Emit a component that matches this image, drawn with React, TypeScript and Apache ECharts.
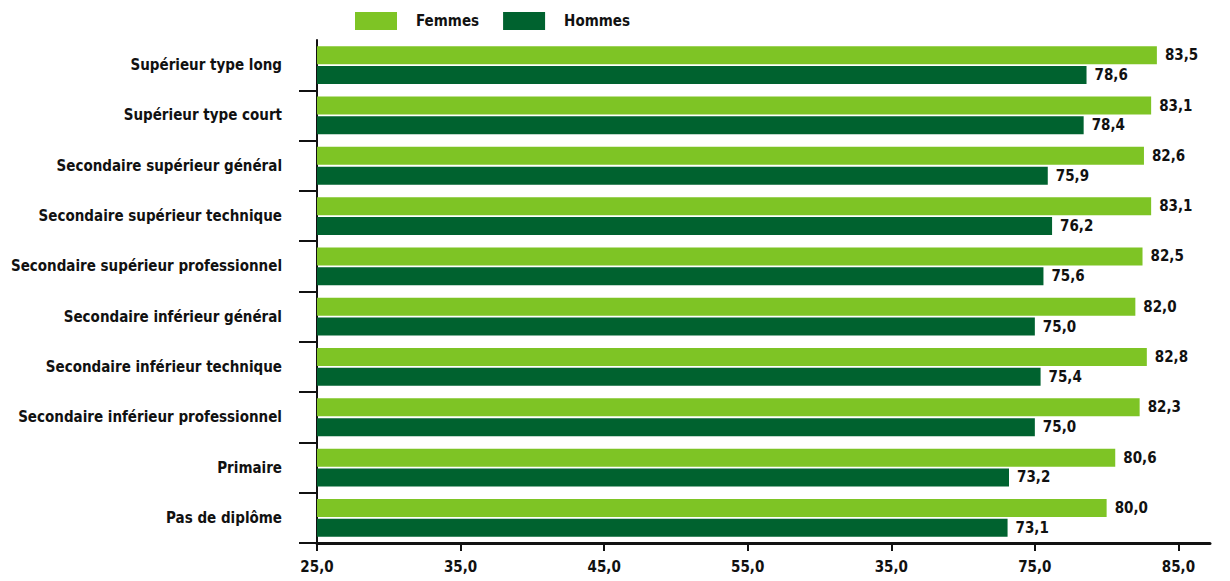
import React, { useEffect, useRef } from "react";
import * as echarts from "echarts";

const categories = [
  "Supérieur type long",
  "Supérieur type court",
  "Secondaire supérieur général",
  "Secondaire supérieur technique",
  "Secondaire supérieur professionnel",
  "Secondaire inférieur général",
  "Secondaire inférieur technique",
  "Secondaire inférieur professionnel",
  "Primaire",
  "Pas de diplôme",
];
const femmes = [83.5, 83.1, 82.6, 83.1, 82.5, 82.0, 82.8, 82.3, 80.6, 80.0];
const hommes = [78.6, 78.4, 75.9, 76.2, 75.6, 75.0, 75.4, 75.0, 73.2, 73.1];
const tickValues = [25, 35, 45, 55, 65, 75, 85];
const tickLabels = ["25,0", "35,0", "45,0", "55,0", "35,0", "75,0", "85,0"];

const FONT = "'DejaVu Sans Condensed', 'Liberation Sans Narrow', sans-serif";
const LIGHT = "#7EC425";
const DARK = "#00622F";
const FS = 15;

export default function App() {
  const ref = useRef<HTMLDivElement>(null);
  useEffect(() => {
    if (!ref.current) return;
    const chart = echarts.init(ref.current, null, { renderer: "svg" });
    const fmt = (v: number) => v.toFixed(1).replace(".", ",");
    const labelStyle = {
      show: true,
      position: "right" as const,
      distance: 8,
      color: "#111",
      fontFamily: FONT,
      fontWeight: "bold" as const,
      fontSize: FS,
      formatter: (p: any) => fmt(p.value),
    };
    chart.setOption({
      animation: false,
      backgroundColor: "#fff",
      legend: {
        left: 350,
        top: 7,
        itemWidth: 42,
        itemHeight: 18,
        itemGap: 24,
        icon: "rect",
        textStyle: {
          fontFamily: FONT,
          fontWeight: "bold",
          fontSize: FS,
          color: "#111",
          padding: [0, 0, 0, 14],
        },
        data: ["Femmes", "Hommes"],
      },
      grid: {
        left: 317,
        right: 20,
        top: 40,
        bottom: 38,
        containLabel: false,
        outerBoundsMode: "none",
      },
      xAxis: {
        type: "value",
        min: 25,
        max: 87.2,
        splitLine: { show: false },
        axisLine: { show: true, lineStyle: { color: "#111", width: 3 } },
        axisTick: {
          show: true,
          length: 8,
          lineStyle: { color: "#111", width: 2 },
          customValues: tickValues,
        },
        axisLabel: {
          customValues: tickValues,
          margin: 16,
          fontFamily: FONT,
          fontWeight: "bold",
          fontSize: FS,
          color: "#111",
          formatter: (v: number) => {
            const i = tickValues.indexOf(Math.round(v));
            return i >= 0 ? tickLabels[i] : "";
          },
        },
      },
      yAxis: {
        type: "category",
        inverse: true,
        data: categories,
        axisLine: { show: true, lineStyle: { color: "#111", width: 2 } },
        axisTick: {
          show: true,
          length: 18,
          interval: (i: number) => i !== 0,
          lineStyle: { color: "#111", width: 2 },
        },
        axisLabel: {
          margin: 35,
          fontFamily: FONT,
          fontWeight: "bold",
          fontSize: FS,
          color: "#111",
        },
      },
      series: [
        {
          name: "Femmes",
          type: "bar",
          data: femmes,
          barWidth: 18,
          barGap: "10%",
          itemStyle: { color: LIGHT },
          label: labelStyle,
        },
        {
          name: "Hommes",
          type: "bar",
          data: hommes,
          barWidth: 18,
          barGap: "10%",
          itemStyle: { color: DARK },
          label: labelStyle,
        },
      ],
    });
    return () => chart.dispose();
  }, []);
  return (
    <div
      ref={ref}
      style={{ position: "fixed", left: 0, top: 0, width: 1230, height: 581 }}
    />
  );
}
